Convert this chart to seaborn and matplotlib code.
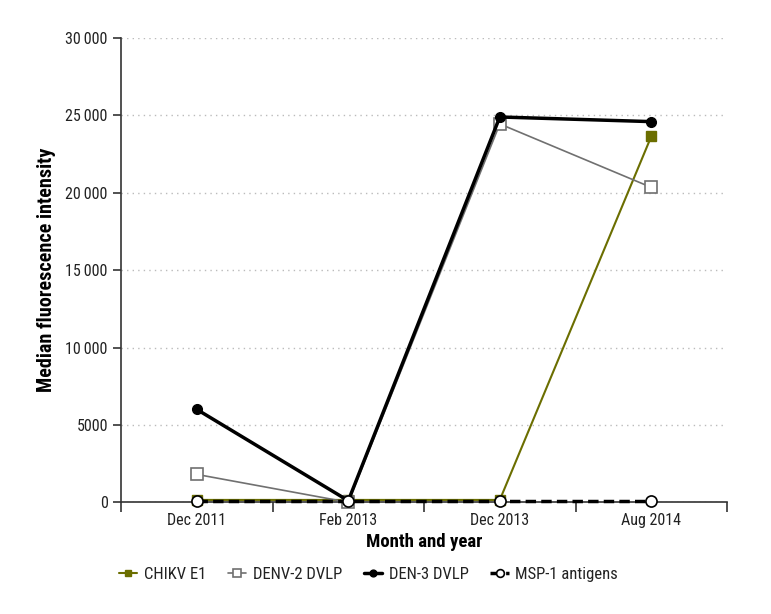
import numpy as np
import pandas as pd
import seaborn as sns
import matplotlib.pyplot as plt
from matplotlib import font_manager
from matplotlib.ticker import FuncFormatter, FixedLocator

# Daten
months = ['Dec 2011', 'Feb 2013', 'Dec 2013', 'Aug 2014']
chikv_e1 = [150, 150, 150, 23650]
denv2_dvlp = [1800, 0, 24450, 20350]
den3_dvlp = [6000, 100, 24900, 24600]
msp1 = [60, 60, 60, 60]

series_names = ['CHIKV E1', 'DENV-2 DVLP', 'DEN-3 DVLP', 'MSP-1 antigens']
series_values = [chikv_e1, denv2_dvlp, den3_dvlp, msp1]

sns.set_style('white')
# schmale Schrift suchen, falls vorhanden
names = {f.name for f in font_manager.fontManager.ttflist}
narrow = [n for n in ['Liberation Sans Narrow', 'Roboto Condensed', 'Open Sans Condensed'] if n in names]
plt.rcParams['font.family'] = narrow + ['DejaVu Sans']
plt.rcParams['font.stretch'] = 'condensed'
plt.rcParams['text.color'] = '#222222'

fig = plt.figure(figsize=(7.71, 6.14), dpi=100)
ax = fig.add_axes([0.157, 0.182, 0.786, 0.756])

olive = '#6b6e00'
styles = {
    'CHIKV E1': dict(color=olive, lw=1.5, marker='s', ms=7, mfc=olive, mec=olive, ls='-'),
    'DENV-2 DVLP': dict(color='#707070', lw=1.2, marker='s', ms=8, mfc='white', mec='#707070', mew=1.2, ls='-'),
    'DEN-3 DVLP': dict(color='black', lw=2.5, marker='o', ms=7, mfc='black', mec='black', ls='-'),
    'MSP-1 antigens': dict(color='black', lw=2.5, marker='o', ms=8, mfc='white', mec='black', mew=1.2, ls=(0, (3, 1.5))),
}

x = np.arange(len(months))
for name, vals in zip(series_names, series_values):
    df = pd.DataFrame({'x': x, 'y': vals})
    st = styles[name]
    sns.lineplot(data=df, x='x', y='y', ax=ax, label=name, color=st['color'],
                 linewidth=st['lw'], linestyle=st['ls'], marker=st['marker'],
                 markersize=st['ms'], markerfacecolor=st['mfc'],
                 markeredgecolor=st['mec'], markeredgewidth=st.get('mew', 1.0),
                 zorder=3, clip_on=False)

ax.set_xlim(-0.5, 3.5)
ax.set_ylim(0, 30000)
ax.set_yticks(np.arange(0, 30001, 5000))
ax.yaxis.set_major_formatter(FuncFormatter(
    lambda v, p: '0' if v == 0 else ('5000' if v == 5000 else f'{int(v):,}'.replace(',', '\u2009'))))
ax.grid(axis='y', color='#bbbbbb', linestyle=(0, (1, 3)), linewidth=1)

# x-Achse: Beschriftungen an Kategorien, Ticks zwischen den Kategorien
ax.xaxis.set_major_locator(FixedLocator(np.arange(-0.5, 3.6, 1)))
ax.set_xticklabels([])
ax.xaxis.set_minor_locator(FixedLocator(x))
ax.set_xticklabels(months, minor=True)
ax.tick_params(axis='x', which='major', direction='out', length=7, width=1.2, color='#333333', bottom=True)
ax.tick_params(axis='x', which='minor', length=0, labelsize=11.5, pad=8, labelcolor='#222222')
ax.tick_params(axis='y', direction='out', length=6, width=1.2, color='#333333', labelsize=11.5, left=True, labelcolor='#222222')

for s in ['top', 'right']:
    ax.spines[s].set_visible(False)
for s in ['left', 'bottom']:
    ax.spines[s].set_color('#333333')
    ax.spines[s].set_linewidth(1.2)

ax.set_xlabel('Month and year', fontsize=13.5, fontweight='bold', labelpad=3, color='black')
ax.set_ylabel('Median fluorescence intensity', fontsize=14.5, fontweight='bold', labelpad=7, color='black')

handles, labels = ax.get_legend_handles_labels()
ax.get_legend().remove()
fig.legend(handles, labels, loc='center', bbox_to_anchor=(0.478, 0.064), ncol=4,
           frameon=False, fontsize=12, handlelength=1.1, columnspacing=1.3,
           handletextpad=0.4, markerscale=0.7)

plt.savefig('out.png', dpi=100)
